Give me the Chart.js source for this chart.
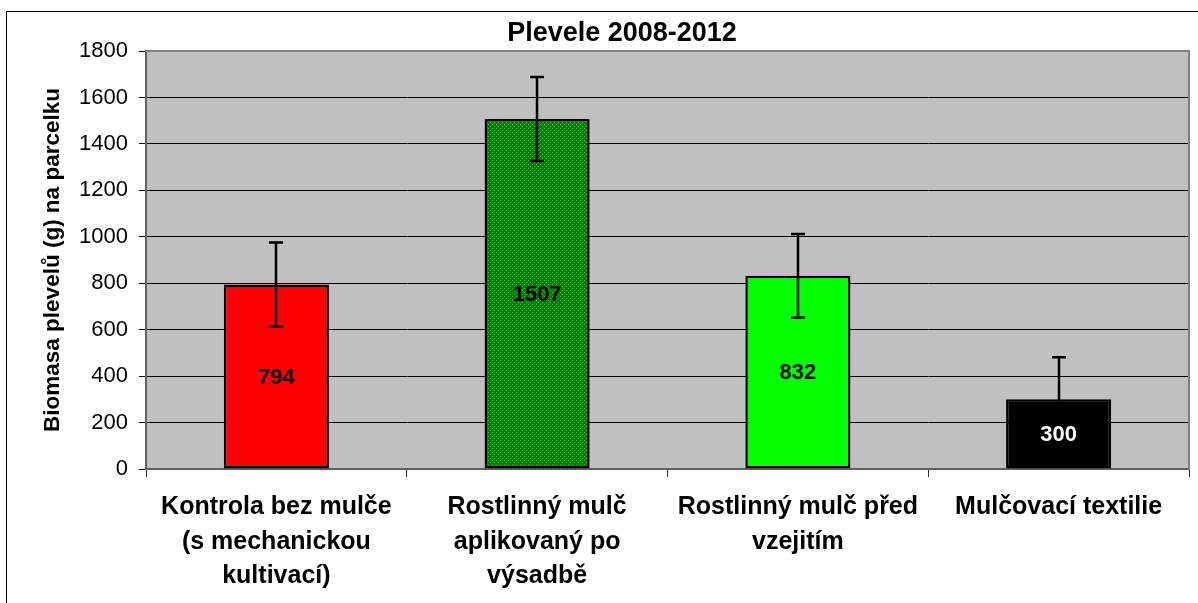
<!DOCTYPE html>
<html>
<head>
<meta charset="utf-8">
<script src="https://cdn.jsdelivr.net/npm/chart.js@4.4.1/dist/chart.umd.min.js"></script>
<style>
  html, body { margin: 0; padding: 0; background: #fff; overflow: hidden; }
  #frame { position: absolute; left: 6px; top: 11px; width: 1400px; height: 800px;
           border-left: 1px solid #000; border-top: 1px solid #000; }
  #wrap { position: absolute; left: 0; top: 0; width: 1198px; height: 603px; }
</style>
</head>
<body>
<div id="frame"></div>
<div id="wrap"><canvas id="c" width="1198" height="603"></canvas></div>
<script>
// ---- data ----
const categories = [
  ['Kontrola bez mulče', '(s mechanickou', 'kultivací)'],
  ['Rostlinný mulč', 'aplikovaný po', 'výsadbě'],
  ['Rostlinný mulč před', 'vzejitím'],
  ['Mulčovací textilie']
];
const values = [794, 1507, 832, 300];
const errors = [181, 181, 180, 181];
const yTicks = [0, 200, 400, 600, 800, 1000, 1200, 1400, 1600, 1800];
const titleText = 'Plevele 2008-2012';
const yTitleText = 'Biomasa plevelů (g) na parcelku';

// ---- styles ----
const FONT = '"Liberation Sans", Arial, sans-serif';
function dotPattern() {
  const p = document.createElement('canvas');
  p.width = 4; p.height = 4;
  const g = p.getContext('2d');
  g.fillStyle = '#008000';
  g.fillRect(0, 0, 4, 4);
  g.fillStyle = '#4fa84f';
  g.fillRect(0, 0, 1, 1);
  g.fillRect(2, 2, 1, 1);
  return g.createPattern(p, 'repeat');
}
const barColors = ['#ff0000', dotPattern(), '#00ff00', '#000000'];
const labelColors = ['#000000', '#000000', '#000000', '#ffffff'];

const plotBg = {
  id: 'plotBg',
  beforeDraw(chart) {
    const {ctx, chartArea: a} = chart;
    ctx.save();
    ctx.fillStyle = '#c0c0c0';
    ctx.fillRect(a.left, a.top, a.right - a.left, a.bottom - a.top);
    ctx.restore();
  },
  afterDraw(chart) {
    const {ctx, chartArea: a} = chart;
    ctx.save();
    ctx.strokeStyle = '#808080';
    ctx.lineWidth = 2;
    ctx.beginPath();
    ctx.moveTo(a.left, a.top);
    ctx.lineTo(a.right, a.top);
    ctx.lineTo(a.right, a.bottom);
    ctx.stroke();
    ctx.restore();
  },
  afterLayout(chart) {
    const t = chart.titleBlock;
    if (t) { t.left = 622 - 400; t.right = 622 + 400; }
  }
};

const errorBars = {
  id: 'errorBars',
  afterDatasetsDraw(chart) {
    const {ctx} = chart;
    const y = chart.scales.y;
    const meta = chart.getDatasetMeta(0);
    ctx.save();
    meta.data.forEach((bar, i) => {
      const v = values[i], e = errors[i];
      const yTop = y.getPixelForValue(v + e);
      const yBot = y.getPixelForValue(Math.max(0, v - e));
      const x = Math.round(bar.x);
      ctx.strokeStyle = '#000';
      ctx.lineWidth = 2.5;
      ctx.beginPath();
      ctx.moveTo(x, yTop); ctx.lineTo(x, yBot);
      ctx.moveTo(x - 7, yTop); ctx.lineTo(x + 7, yTop);
      if (v - e > 0) { ctx.moveTo(x - 7, yBot); ctx.lineTo(x + 7, yBot); }
      ctx.stroke();
    });
    // data labels
    ctx.font = 'bold 22px ' + FONT;
    ctx.textAlign = 'center';
    ctx.textBaseline = 'middle';
    meta.data.forEach((bar, i) => {
      ctx.fillStyle = labelColors[i];
      ctx.fillText(String(values[i]), bar.x, (bar.y + bar.base) / 2 + 1);
    });
    ctx.restore();
  }
};

new Chart(document.getElementById('c'), {
  type: 'bar',
  data: {
    labels: categories,
    datasets: [{
      data: values,
      backgroundColor: barColors,
      borderColor: '#000',
      borderWidth: 2.5,
      borderSkipped: false,
      categoryPercentage: 1,
      barPercentage: 0.403
    }]
  },
  options: {
    responsive: false,
    animation: false,
    events: [],
    layout: { padding: { left: 0, right: 9, top: 0, bottom: 0 } },
    plugins: {
      legend: { display: false },
      tooltip: { enabled: false },
      title: {
        display: true,
        text: titleText,
        color: '#000',
        font: { family: FONT, size: 27, weight: 'bold', lineHeight: 1.2 },
        padding: { top: 17, bottom: 1.6 }
      }
    },
    scales: {
      x: {
        offset: true,
        grid: { display: true, offset: true, drawOnChartArea: false, drawTicks: true,
                tickLength: 8, color: '#333', lineWidth: 1 },
        border: { display: true, color: '#606060', width: 2 },
        ticks: { color: '#000', maxRotation: 0, minRotation: 0, autoSkip: false, padding: 13,
                 font: { family: FONT, size: 25, weight: 'bold', lineHeight: 1.38 } },
        afterFit(s) { s.height = 134; }
      },
      y: {
        min: 0, max: 1800,
        afterBuildTicks(s) { s.ticks = yTicks.map(v => ({value: v})); },
        grid: { color: '#000', lineWidth: 1, drawTicks: true, tickLength: 7, tickColor: '#000' },
        border: { display: true, color: '#606060', width: 2 },
        ticks: { color: '#000', padding: 11, font: { family: FONT, size: 22 },
                 callback: (v) => String(v) },
        title: {
          display: true, text: yTitleText, color: '#000',
          font: { family: FONT, size: 22.5, weight: 'bold', lineHeight: 1.2 },
          padding: { top: 39, bottom: 0 }
        },
        afterFit(s) { s.width = 146; }
      }
    }
  },
  plugins: [plotBg, errorBars]
});
</script>
</body>
</html>
